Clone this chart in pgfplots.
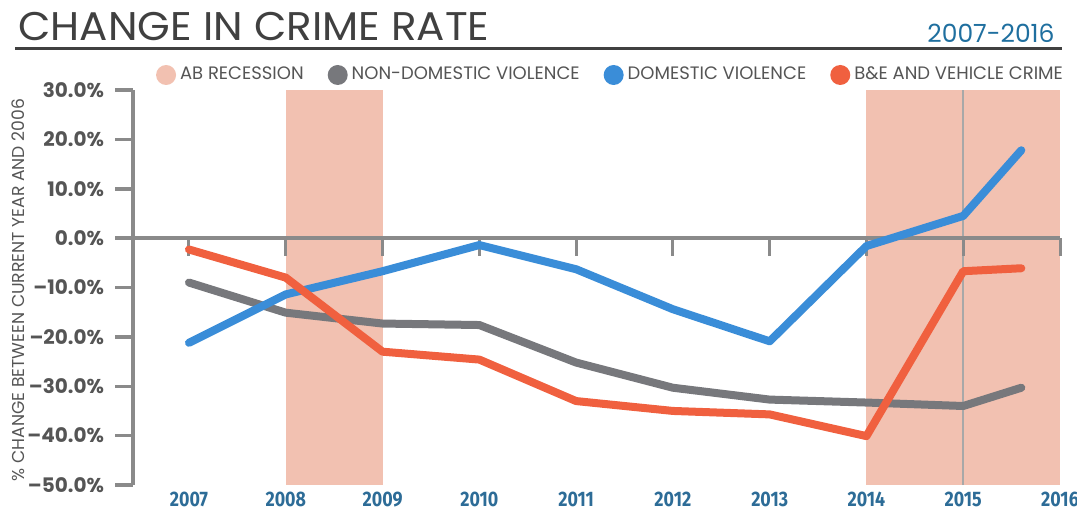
\documentclass[border=0pt]{standalone}
\usepackage{fontspec}
\setmainfont{Poppins}
\newfontfamily\xfont[FakeStretch=0.85]{Fira Sans}
\newfontfamily\titlefont[FakeStretch=1.05]{Poppins}
\usepackage{pgfplots}
\pgfplotsset{compat=1.18}
\definecolor{shadec}{HTML}{F2C1B1}
\definecolor{grayc}{HTML}{77787C}
\definecolor{bluec}{HTML}{3A8DD8}
\definecolor{orangec}{HTML}{F0603F}
\definecolor{axisc}{HTML}{8A8A8A}
\definecolor{titlec}{HTML}{404040}
\definecolor{subc}{HTML}{1F6F9F}
\definecolor{xc}{HTML}{2D6C97}
\definecolor{ytc}{HTML}{555555}
\definecolor{legc}{HTML}{555555}
\definecolor{vlc}{HTML}{A8A8A8}
\begin{document}
\begin{tikzpicture}
\path[use as bounding box] (0,0) rectangle (538.5pt,-257pt);
\node[anchor=base west, inner sep=0pt, text=titlec, font=\titlefont\fontsize{20}{20}\selectfont] at (9pt,-20pt) {CHANGE IN CRIME RATE};
\draw[titlec, line width=1.5pt] (7.5pt,-24pt) -- (531pt,-24pt);
\node[anchor=base east, inner sep=0pt, text=subc, font=\fontsize{12.5}{12.5}\selectfont] at (527.5pt,-21pt) {2007-2016};
\node[rotate=90, inner sep=0pt, text=legc, font=\fontsize{8.6}{8.6}\selectfont] at (9pt,-145pt) {\% CHANGE BETWEEN CURRENT YEAR AND 2006};
\begin{axis}[
  at={(66.5pt,-242.5pt)}, anchor=south west,
  scale only axis, width=463.5pt, height=197.5pt,
  xmin=2006.4215, xmax=2016, ymin=-50, ymax=30,
  axis y line*=left, axis x line*=bottom,
  x axis line style={draw=none},
  y axis line style={line width=1.75pt, color=axisc},
  xtick={2007,2008,2009,2010,2011,2012,2013,2014,2015,2016},
  xticklabels={2007,2008,2009,2010,2011,2012,2013,2014,2015,2016},
  x tick style={draw=none},
  xtick align=inside,
  xticklabel style={font=\xfont\bfseries\fontsize{10.5}{10.5}\selectfont, text=xc},
  ytick={-50,-40,-30,-20,-10,0,10,20,30},
  yticklabels={–50.0\%,–40.0\%,–30.0\%,–20.0\%,–10.0\%,0.0\%,10.0\%,20.0\%,30.0\%},
  ytick align=outside,
  major tick length=9pt,
  y tick style={line width=1.75pt, color=axisc},
  yticklabel style={font=\bfseries\fontsize{10}{10}\selectfont, text=ytc, xshift=-2pt},
  legend columns=4,
  legend image code/.code={\fill[#1, draw=none] (0pt,0pt) circle (5pt);},
  legend style={draw=none, fill=none, at={(0.018,1.038)}, anchor=west,
    font=\fontsize{9}{9}\selectfont, text=legc,
    /tikz/every even column/.append style={column sep=10pt}},
  legend cell align=left,
  clip=false,
]
\addplot[fill=shadec, draw=none, forget plot] coordinates {(2008,-50) (2008,30) (2009,30) (2009,-50)} -- cycle;
\addplot[fill=shadec, draw=none, forget plot] coordinates {(2014,-50) (2014,30) (2016,30) (2016,-50)} -- cycle;
\addplot[vlc, line width=1pt, forget plot] coordinates {(2015,-50) (2015,30)};
\addplot[axisc, line width=1.75pt, forget plot] coordinates {(2006.4215,0) (2016,0)};
\pgfplotsinvokeforeach{2007,2008,2009,2010,2011,2012,2013,2014,2015,2016}{
  \draw[axisc, line width=1.5pt] (axis cs:#1,0) -- ([yshift=-9pt]axis cs:#1,0);
}
\addlegendimage{color=shadec}
\addplot[grayc, line width=4pt, line cap=round, line join=round] coordinates {
 (2007,-9.0) (2008,-15.1) (2009,-17.3) (2010,-17.6) (2011,-25.2) (2012,-30.3) (2013,-32.7) (2014,-33.3) (2015,-34.0) (2015.6,-30.3)};
\addplot[bluec, line width=4pt, line cap=round, line join=round] coordinates {
 (2007,-21.2) (2008,-11.4) (2009,-6.7) (2010,-1.4) (2011,-6.3) (2012,-14.4) (2013,-20.9) (2014,-1.6) (2015,4.5) (2015.6,17.8)};
\addplot[orangec, line width=4pt, line cap=round, line join=round] coordinates {
 (2007,-2.3) (2008,-8.0) (2009,-23.0) (2010,-24.6) (2011,-33.0) (2012,-35.0) (2013,-35.7) (2014,-40.1) (2015,-6.7) (2015.6,-6.1)};
\legend{AB RECESSION, NON-DOMESTIC VIOLENCE, DOMESTIC VIOLENCE, B\&E AND VEHICLE CRIME}
\end{axis}
\end{tikzpicture}
\end{document}
